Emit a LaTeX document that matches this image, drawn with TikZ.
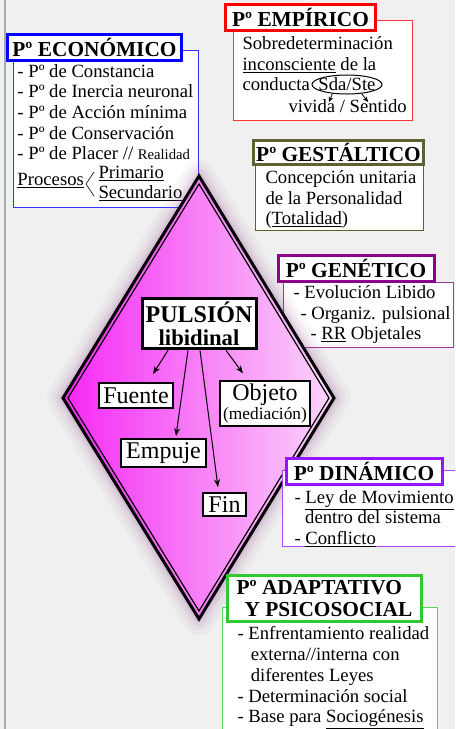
\documentclass[tikz,border=0pt]{standalone}
\usepackage{fontspec}
\setmainfont{Liberation Serif}
\usetikzlibrary{arrows.meta,shapes.geometric,calc}

\definecolor{fondo}{RGB}{240,240,240}
\definecolor{economico}{RGB}{0,0,255}
\definecolor{empirico}{RGB}{255,0,0}
\definecolor{gestaltico}{RGB}{96,96,48}
\definecolor{genetico}{RGB}{140,0,140}
\definecolor{dinamico}{RGB}{150,20,255}
\definecolor{adaptativo}{RGB}{50,200,50}
\definecolor{rosaA}{RGB}{245,40,245}
\definecolor{rosaB}{RGB}{242,125,242}
\definecolor{rosaC}{RGB}{250,215,250}

\tikzset{every picture/.style={line width=0.75pt}}
\tikzset{
  titulo/.style={draw=#1, line width=2.25pt, fill=white, inner sep=0pt, minimum height=19.5pt, font=\fontsize{16}{17}\selectfont\bfseries},
  cuerpo/.style={anchor=north west, inner sep=0pt, align=left, font=\fontsize{14}{15.4}\selectfont},
  linea/.style={anchor=base west, inner sep=0pt, font=\fontsize{14}{15.4}\selectfont},
  caja/.style={draw, line width=1.5pt, fill=white, inner xsep=2.5pt, inner ysep=2pt, font=\fontsize{18}{19}\selectfont},
  flecha/.style={-{Stealth[length=6pt,width=4.5pt]}, line width=0.75pt},
  flechita/.style={-{Stealth[length=4pt,width=3.5pt]}, line width=0.6pt}
}

\begin{document}
\begin{tikzpicture}[x=0.75pt,y=0.75pt,yscale=-1,xscale=1]
	\useasboundingbox (0,0) rectangle (455,729);
	\clip (0,0) rectangle (455,729);
	\fill[fondo] (0,0) rectangle (455,729);
	\draw[line width=1.5pt, draw={rgb,255:red,170;green,170;blue,170}] (5,0) -- (5,729);

	%Shape: Rectangle [economico]
	\draw[economico!80, fill=white] (13,50) rectangle (198,207);
	\node[titulo=economico, minimum width=131pt] (economico) at (94.5,47) {Pº ECONÓMICO};
	% Text Node
	\node[cuerpo] (listaEco) at (17,64) {- Pº de Constancia\\- Pº de Inercia neuronal\\- Pº de Acción mínima\\- Pº de Conservación\\- Pº de Placer // {\fontsize{11}{12}\selectfont Realidad}};
	\node[linea] (procesos) at (17,185) {\underline{Procesos}};
	\draw[line width=0.5pt] (94,172) -- (86,184) -- (94,196);
	\node[linea] (primario) at (98,178) {\underline{Primario}};
	\node[linea] (secundario) at (98,198) {\underline{Secundario}};

	%Shape: Rectangle [gestaltico]
	\draw[gestaltico, fill=white] (255,164) rectangle (423,230);
	\node[titulo=gestaltico, minimum width=128pt, minimum height=18pt] (gestaltico) at (338.5,152) {Pº GESTÁLTICO};
	% Text Node
	\node[cuerpo] (textoGes) at (265,170) {Concepción unitaria\\de la Personalidad\\(\underline{Totalidad})};

	%Shape: Rectangle [genetico]
	\draw[genetico!80, fill=white] (283,282) rectangle (453,347);
	\node[titulo=genetico, minimum width=117pt, minimum height=20pt] (genetico) at (356,268.5) {Pº GENÉTICO};
	% Text Node
	\node[cuerpo] (textoGen) at (293,285) {- Evolución Libido\\\hspace*{5.25pt}- Organiz. pulsional\\\hspace*{12.75pt}- \underline{RR} Objetales};

	%Shape: Rectangle [empirico]
	\draw[empirico!80, fill=white] (233,20) rectangle (412,120);
	\node[titulo=empirico, minimum width=113pt, minimum height=20pt] (empirico) at (300.5,17.5) {Pº EMPÍRICO};
	% Text Node
	\node[cuerpo] (textoEmp) at (242,36) {Sobredeterminación\\\underline{inconsciente} de la\\conducta};
	\node[ellipse, draw, line width=0.75pt, minimum width=52.5pt, minimum height=14.25pt, inner sep=0pt] (sda) at (347,84.5) {};
	\node[font=\fontsize{14}{15.4}\selectfont] (sdaTexto) at (sda) {Sda/Ste};
	\node[linea] (vividaSentido) at (288,112) {vivida / Sentido};
	\coordinate (aVivida) at (329,102);
	\coordinate (aSentido) at (368,102);
	\draw[flechita] (sda.212) -- (aVivida);
	\draw[flechita] (sda.328) -- (aSentido);

	%Shape: Diamond [pulsion]
	\coordinate (arriba) at (199,176);
	\coordinate (izq) at (63,398);
	\coordinate (abajo) at (199,619);
	\coordinate (der) at (334,398);
	\foreach \w/\o in {24/0.04,17/0.05,11/0.07,6/0.09}
		\draw[line width=\w pt, draw=violet!60!gray, draw opacity=\o, line join=round] (arriba) -- (izq) -- (abajo) -- (der) -- cycle;
	\shade[left color=rosaA, middle color=rosaB, right color=rosaC] (arriba) -- (izq) -- (abajo) -- (der) -- cycle;
	\draw[line width=2.25pt, line join=miter] (arriba) -- (izq) -- (abajo) -- (der) -- cycle;
	\draw[line width=0.9pt] (199,184) -- (68,398) -- (199,611) -- (329,398) -- cycle;

	%Shape: Rectangle [dinamico]
	\draw[dinamico!80, fill=white] (282,470) rectangle (470,546);
	\node[titulo=dinamico, minimum width=117pt] (dinamico) at (364,471) {Pº DINÁMICO};
	% Text Node
	\node[cuerpo] (textoDin) at (294,490) {- \underline{Ley de Movimiento}\\\hspace*{8pt}dentro del sistema\\- \underline{Conflicto}};

	%Shape: Rectangle [adaptativo]
	\draw[adaptativo!80, fill=white] (222,607) rectangle (437,740);
	\node[titulo=adaptativo, minimum width=146pt, minimum height=35pt, align=left] (adaptativo) at (324.5,598.5) {Pº ADAPTATIVO\\\hspace*{6pt}Y PSICOSOCIAL};
	% Text Node
	\node[cuerpo, font=\fontsize{14}{15.6}\selectfont] (textoAda) at (237,626) {- Enfrentamiento realidad\\\hspace*{10pt}externa//interna con\\\hspace*{10pt}diferentes Leyes\\- Determinación social\\- Base para \underline{Sociogénesis}};

	% Text Node
	\node[caja, line width=2.25pt, align=center, minimum width=85.5pt, minimum height=38pt, font=\bfseries\fontsize{18}{17}\selectfont] (pulsion) at (199,323.5) {PULSIÓN\\{\fontsize{17}{17}\selectfont libidinal}};
	\node[caja, minimum width=55.5pt, minimum height=18.75pt] (fuente) at (136,395.5) {Fuente};
	\node[caja, align=center, minimum width=67.5pt, minimum height=32pt, font=\fontsize{18}{12.75}\selectfont] (objeto) at (265,403.5) {Objeto\\{\fontsize{13}{13}\selectfont (mediación)}};
	\node[caja, minimum width=63.75pt, minimum height=21pt] (empuje) at (163.5,453) {Empuje};
	\node[caja, minimum width=32pt, minimum height=17pt] (fin) at (224.5,504.5) {Fin};

	\draw[flecha] ($(pulsion.south)+(-31,0)$) -- ($(fuente.north)+(17,-8)$);
	\draw[flecha] ($(pulsion.south)+(-11,0)$) -- ($(empuje.north)+(12.5,-2)$);
	\draw[flecha] ($(pulsion.south)+(1,0)$) -- ($(fin.north)+(-6.5,-5)$);
	\draw[flecha] ($(pulsion.south)+(27,0)$) -- ($(objeto.north)+(-22,-7)$);

\end{tikzpicture}
\end{document}
